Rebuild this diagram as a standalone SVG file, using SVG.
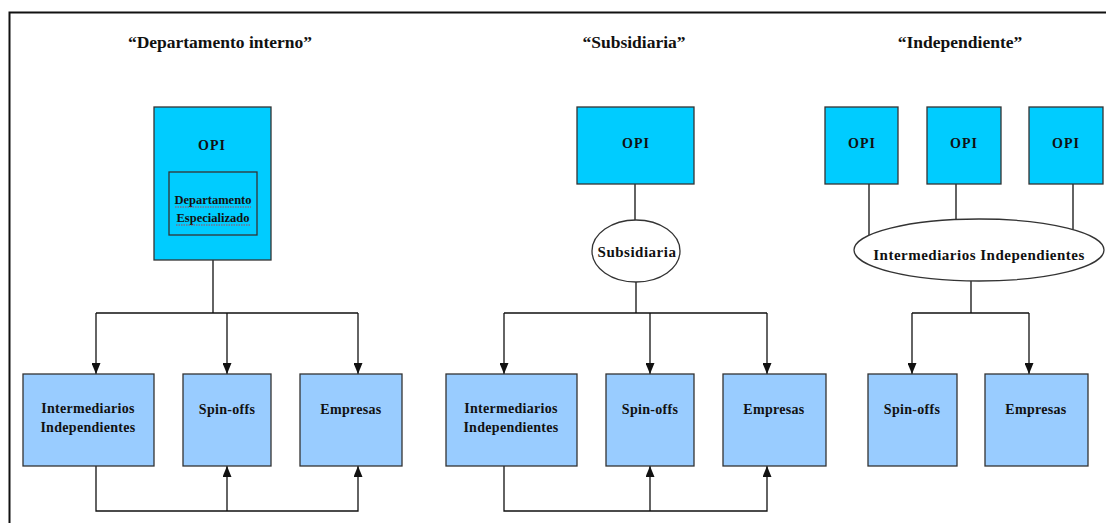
<svg xmlns="http://www.w3.org/2000/svg" width="1106" height="523" viewBox="0 0 1106 523" font-family="'Liberation Serif', 'DejaVu Serif', serif">
  <defs>
    <style>
      text { font-family: 'Liberation Serif', 'DejaVu Serif', serif; font-weight: bold; fill: #111; text-anchor: middle; }
      .title { font-size: 17.5px; }
      .lbl { font-size: 14px; letter-spacing: 0.3px; }
      .opi-t { font-size: 14px; letter-spacing: 1px; }
      .ell-t { font-size: 15px; letter-spacing: 0.5px; }
      .small { font-size: 12.5px; }
      .opi { fill: #00CCFF; stroke: #333; stroke-width: 1.3; }
      .box { fill: #99CCFF; stroke: #333; stroke-width: 1.3; }
      .ell { fill: #fff; stroke: #333; stroke-width: 1.3; }
      .wire { fill: none; stroke: #111; stroke-width: 1.3; }
      .arrow { fill: none; stroke: #111; stroke-width: 1.3; marker-end: url(#head); }
      .squiggle { fill: none; stroke: #d22; stroke-width: 0.8; stroke-dasharray: 1.5 1; }
    </style>
    <marker id="head" viewBox="0 0 11 9" markerUnits="userSpaceOnUse" markerWidth="11" markerHeight="9" refX="11" refY="4.5" orient="auto">
      <path d="M0,0 L11,4.5 L0,9 z" fill="#111"/>
    </marker>
  </defs>

  <rect x="0" y="0" width="1106" height="523" fill="#fff"/>
  <!-- outer frame -->
  <rect x="9.5" y="12.5" width="1120" height="530" fill="none" stroke="#111" stroke-width="2"/>

  <!-- section titles -->
  <text class="title" x="220" y="48">“Departamento interno”</text>
  <text class="title" x="634" y="48">“Subsidiaria”</text>
  <text class="title" x="960" y="48">“Independiente”</text>

  <!-- connectors -->
  <g id="connectors">
    <!-- internal department -->
    <path class="wire" d="M213,235 V313 M96,313 H358"/>
    <path class="arrow" d="M96,313 V374"/>
    <path class="arrow" d="M227,313 V374"/>
    <path class="arrow" d="M358,313 V374"/>
    <path class="arrow" d="M96,466 V511 H358 V466"/>
    <path class="arrow" d="M227,511 V466"/>
    <!-- subsidiary -->
    <path class="wire" d="M635,184 V220 M636,282 V313 M504,313 H767"/>
    <path class="arrow" d="M504,313 V374"/>
    <path class="arrow" d="M650,313 V374"/>
    <path class="arrow" d="M767,313 V374"/>
    <path class="arrow" d="M504,466 V511 H767 V466"/>
    <path class="arrow" d="M650,511 V466"/>
    <!-- independent -->
    <path class="wire" d="M869,184 V235 M956,184 V219 M1073,184 V232 M971,281 V313 M912,313 H1029"/>
    <path class="arrow" d="M912,313 V374"/>
    <path class="arrow" d="M1029,313 V374"/>
  </g>

  <!-- internal department -->
  <g id="opi-interno">
    <rect class="opi" x="154" y="107" width="117" height="153"/>
    <text class="opi-t" x="212" y="150">OPI</text>
  </g>
  <g id="depto-especializado">
    <rect class="opi" x="169" y="172" width="88" height="63"/>
    <text class="small" x="213" y="204">Departamento</text>
    <text class="small" x="213" y="222">Especializado</text>
    <path class="squiggle" d="M175,207 H251 M176,225 H250"/>
  </g>
  <g id="int-indep-1">
    <rect class="box" x="23" y="374" width="131" height="92"/>
    <text class="lbl" x="88" y="413">Intermediarios</text>
    <text class="lbl" x="88" y="432">Independientes</text>
  </g>
  <g id="spinoffs-1">
    <rect class="box" x="183" y="374" width="88" height="92"/>
    <text class="lbl" x="227" y="414">Spin-offs</text>
  </g>
  <g id="empresas-1">
    <rect class="box" x="300" y="374" width="102" height="92"/>
    <text class="lbl" x="351" y="414">Empresas</text>
  </g>

  <!-- subsidiary -->
  <g id="opi-subsidiaria">
    <rect class="opi" x="577" y="107" width="117" height="77"/>
    <text class="opi-t" x="636" y="148">OPI</text>
  </g>
  <g id="subsidiaria">
    <ellipse class="ell" cx="636" cy="251" rx="44" ry="31"/>
    <text class="ell-t" x="637" y="257">Subsidiaria</text>
  </g>
  <g id="int-indep-2">
    <rect class="box" x="446" y="374" width="131" height="92"/>
    <text class="lbl" x="511" y="413">Intermediarios</text>
    <text class="lbl" x="511" y="432">Independientes</text>
  </g>
  <g id="spinoffs-2">
    <rect class="box" x="606" y="374" width="88" height="92"/>
    <text class="lbl" x="650" y="414">Spin-offs</text>
  </g>
  <g id="empresas-2">
    <rect class="box" x="723" y="374" width="103" height="92"/>
    <text class="lbl" x="774" y="414">Empresas</text>
  </g>

  <!-- independent -->
  <g id="opi-a">
    <rect class="opi" x="825" y="107" width="73" height="77"/>
    <text class="opi-t" x="862" y="148">OPI</text>
  </g>
  <g id="opi-b">
    <rect class="opi" x="927" y="107" width="74" height="77"/>
    <text class="opi-t" x="964" y="148">OPI</text>
  </g>
  <g id="opi-c">
    <rect class="opi" x="1029" y="107" width="74" height="77"/>
    <text class="opi-t" x="1066" y="148">OPI</text>
  </g>
  <g id="int-indep-elipse">
    <ellipse class="ell" cx="979" cy="250" rx="125" ry="31"/>
    <text class="ell-t" x="979" y="260">Intermediarios Independientes</text>
  </g>
  <g id="spinoffs-3">
    <rect class="box" x="868" y="374" width="89" height="92"/>
    <text class="lbl" x="912" y="414">Spin-offs</text>
  </g>
  <g id="empresas-3">
    <rect class="box" x="985" y="374" width="103" height="92"/>
    <text class="lbl" x="1036" y="414">Empresas</text>
  </g>
</svg>
